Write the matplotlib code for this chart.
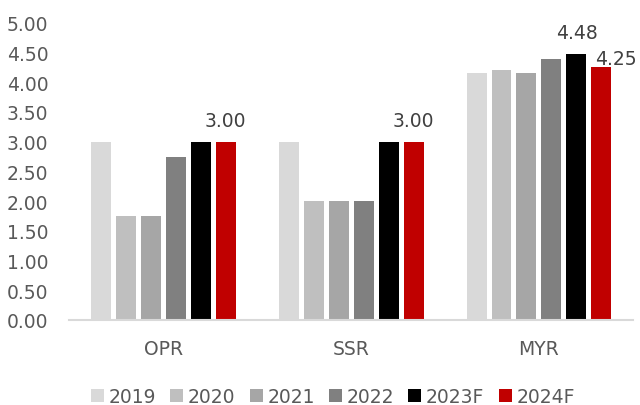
import numpy as np
import matplotlib.pyplot as plt

categories = ["OPR", "SSR", "MYR"]
years = ["2019", "2020", "2021", "2022", "2023F", "2024F"]
opr = [3.00, 1.75, 1.75, 2.75, 3.00, 3.00]
ssr = [3.00, 2.00, 2.00, 2.00, 3.00, 3.00]
myr = [4.15, 4.21, 4.15, 4.40, 4.48, 4.25]
colors = ["#D9D9D9", "#BFBFBF", "#A6A6A6", "#808080", "#000000", "#C00000"]

# value labels: (category index, year index, x shift, y shift)
labelled = [(0, 5, 0.0, 0.2), (1, 5, 0.0, 0.2), (2, 4, 0.0, 0.2), (2, 5, 0.075, -0.01)]

values = np.array([opr, ssr, myr])

plt.rcParams['font.family'] = 'DejaVu Sans'
fig = plt.figure(figsize=(6.4, 4.06), dpi=100)
ax = fig.add_axes([0.108, 0.21, 0.881, 0.731])

x = np.arange(len(categories))
slot = 25 / 188
width = 20 / 188
bars = []
for i, yr in enumerate(years):
    b = ax.bar(x + (i - 2.5) * slot, values[:, i], width, color=colors[i], label=yr, zorder=2)
    bars.append(b)

for c, i, dx, dy in labelled:
    rect = bars[i][c]
    ax.text(rect.get_x() + rect.get_width() / 2 + dx, rect.get_height() + dy,
            f"{values[c, i]:.2f}", ha='center', va='bottom', fontsize=13.5, color='#404040')

ax.set_ylim(0, 5)
ax.set_xlim(-0.5, 2.5)
ax.set_yticks(np.arange(0, 5.01, 0.5))
ax.set_yticklabels([f"{v:.2f}" for v in np.arange(0, 5.01, 0.5)])
ax.set_xticks(x)
ax.set_xticklabels(categories)
ax.tick_params(axis='y', length=0, pad=15, labelsize=13.5, labelcolor='#595959')
ax.tick_params(axis='x', length=0, pad=14, labelsize=13.5, labelcolor='#595959')
for s in ['top', 'right', 'left']:
    ax.spines[s].set_visible(False)
ax.spines['bottom'].set_color('#D9D9D9')
ax.spines['bottom'].set_linewidth(1.5)

fig.legend(loc='lower center', bbox_to_anchor=(0.52, -0.045), ncol=6, frameon=False,
           handlelength=0.7, handleheight=0.7, handletextpad=0.25, columnspacing=0.75,
           fontsize=13.5, labelcolor='#595959')

fig.savefig("out.png", dpi=100)
